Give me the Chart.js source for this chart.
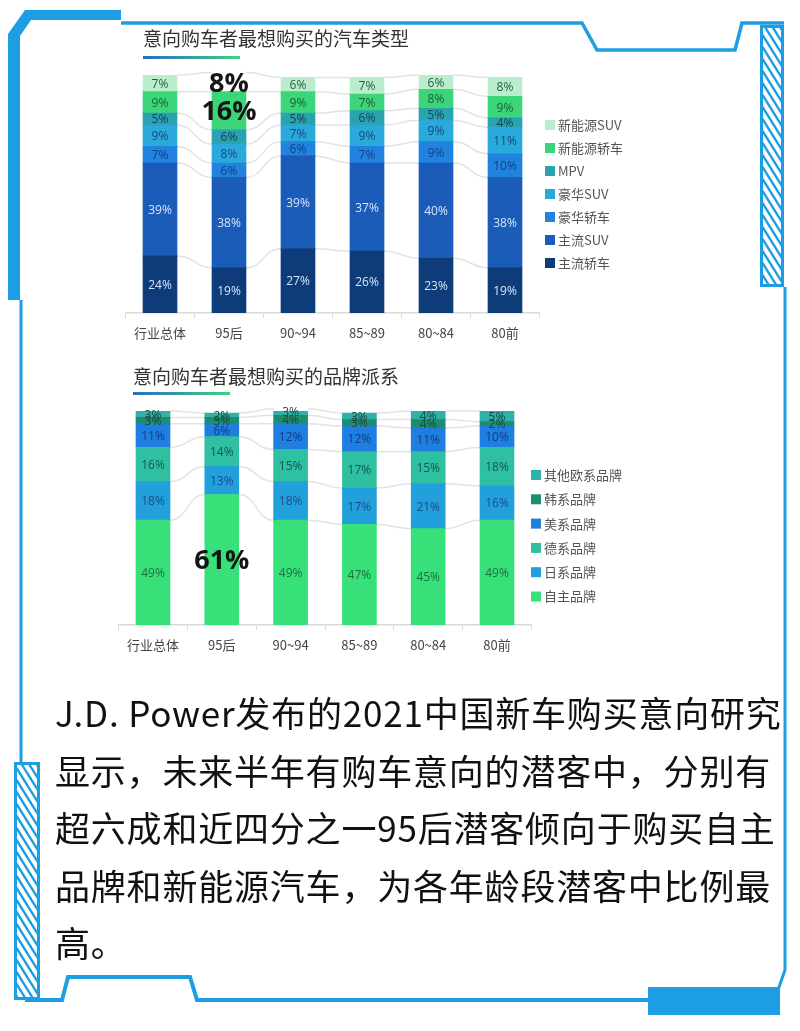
<!DOCTYPE html>
<html lang="zh-CN">
<head>
  <meta charset="UTF-8">
  <title>意向购车者最想购买的汽车类型 / 品牌派系</title>
  <script src="https://cdn.jsdelivr.net/npm/chart.js"></script>
  <style>
    body { margin: 0; background: #fff; font-family: "Noto Sans CJK SC", sans-serif; }
    .page { position: relative; width: 800px; height: 1031px; overflow: hidden; background: #fff; }
    #frame { position: absolute; left: 0; top: 0; }
    .title { position: absolute; font-size: 19px; line-height: 24px; color: #333; white-space: nowrap; }
    .underline { position: absolute; height: 3px; width: 97px; background: linear-gradient(90deg, #2a6cc6, #3fd27c); }
    canvas.chart { position: absolute; }
    .text { position: absolute; left: 55px; top: 683px; font-size: 35px; line-height: 57.5px; color: #111; letter-spacing: 0.8px; white-space: nowrap; }
  </style>
</head>
<body>
<div class="page">
  <canvas id="frame" width="800" height="1031"></canvas>

  <div class="title" style="left:143px; top:26px;">意向购车者最想购买的汽车类型</div>
  <div class="underline" style="left:143px; top:56px;"></div>
  <canvas class="chart" id="typeChart" width="540" height="293" style="left:110px; top:60px;"></canvas>

  <div class="title" style="left:133px; top:364px;">意向购车者最想购买的品牌派系</div>
  <div class="underline" style="left:133px; top:392px;"></div>
  <canvas class="chart" id="brandChart" width="560" height="269" style="left:100px; top:396px;"></canvas>

  <div class="text">
    J.D. Power发布的2021中国新车购买意向研究<br>
    显示，未来半年有购车意向的潜客中，分别有<br>
    超六成和近四分之一95后潜客倾向于购买自主<br>
    品牌和新能源汽车，为各年龄段潜客中比例最<br>
    高。
  </div>
</div>

<script>
  // categories
  const ageGroups = ['行业总体', '95后', '90~94', '85~89', '80~84', '80前'];

  // chart 1: car type (%), bottom to top
  const mainSedan   = [24, 19, 27, 26, 23, 19];
  const mainSuv     = [39, 38, 39, 37, 40, 38];
  const luxSedan    = [7, 6, 6, 7, 9, 10];
  const luxSuv      = [9, 8, 7, 9, 9, 11];
  const mpv         = [5, 6, 5, 6, 5, 4];
  const nevSedan    = [9, 16, 9, 7, 8, 9];
  const nevSuv      = [7, 8, 6, 7, 6, 8];

  // chart 2: brand origin (%), bottom to top
  const domestic    = [49, 61, 49, 47, 45, 49];
  const japanese    = [18, 13, 18, 17, 21, 16];
  const german      = [16, 14, 15, 17, 15, 18];
  const american    = [11, 6, 12, 12, 11, 10];
  const korean      = [3, 3, 4, 3, 4, 2];
  const otherEuro   = [3, 2, 3, 3, 4, 5];

  const BLUE = '#1d9ee2';

  // ---- decorative frame ----
  const f = document.getElementById('frame').getContext('2d');
  f.fillStyle = BLUE;
  f.strokeStyle = BLUE;
  // top-left block + left thick bar
  f.beginPath();
  f.moveTo(8, 34); f.lineTo(25, 10); f.lineTo(121, 10); f.lineTo(121, 20);
  f.lineTo(31, 20); f.lineTo(20, 36); f.lineTo(20, 300); f.lineTo(8, 300);
  f.closePath(); f.fill();
  // top line with dip
  f.lineWidth = 3.5;
  f.beginPath();
  f.moveTo(121, 23); f.lineTo(582, 23); f.lineTo(597, 50); f.lineTo(735, 50);
  f.lineTo(742, 23); f.lineTo(784, 23);
  f.stroke();
  // striped strips
  function stripes(x, y, w, h) {
    f.save();
    f.fillStyle = BLUE; f.fillRect(x, y, w, h);
    f.beginPath(); f.rect(x + 3, y + 3, w - 6, h - 6); f.clip();
    f.strokeStyle = '#fff'; f.lineWidth = 4;
    for (let k = -w * 2; k < h + w; k += 12) {
      f.beginPath(); f.moveTo(x, y + k); f.lineTo(x + w, y + k + w * 1.6); f.stroke();
    }
    f.restore();
  }
  stripes(760, 25, 24, 262);
  stripes(14, 762, 26, 238);
  // thin side lines
  f.lineWidth = 3;
  f.beginPath(); f.moveTo(21, 300); f.lineTo(21, 762); f.stroke();
  f.beginPath(); f.moveTo(785, 287); f.lineTo(785, 970); f.lineTo(778, 990); f.stroke();
  // bottom line with bump
  f.lineWidth = 4;
  f.beginPath();
  f.moveTo(25, 1000); f.lineTo(62, 1000); f.lineTo(68, 977); f.lineTo(190, 977);
  f.lineTo(197, 1000); f.lineTo(650, 1000);
  f.stroke();
  // bottom-right block
  f.fillRect(648, 987, 132, 28);

  // ---- plugins ----
  const seriesLines = {
    id: 'seriesLines',
    beforeDatasetsDraw(chart) {
      const ctx = chart.ctx;
      ctx.save();
      ctx.strokeStyle = '#e3e3e3';
      ctx.lineWidth = 1.5;
      chart.data.datasets.forEach((ds, di) => {
        const bars = chart.getDatasetMeta(di).data;
        for (let i = 0; i < bars.length - 1; i++) {
          const a = bars[i], b = bars[i + 1];
          const x0 = a.x + a.width / 2, x1 = b.x - b.width / 2, mx = (x0 + x1) / 2;
          ctx.beginPath();
          ctx.moveTo(x0, a.y);
          ctx.bezierCurveTo(mx, a.y, mx, b.y, x1, b.y);
          ctx.stroke();
        }
      });
      ctx.restore();
    }
  };

  const segLabels = {
    id: 'segLabels',
    afterDatasetsDraw(chart, args, opts) {
      const ctx = chart.ctx;
      const big = opts.big || [];
      const later = [];
      ctx.save();
      ctx.textAlign = 'center';
      ctx.textBaseline = 'middle';
      chart.data.datasets.forEach((ds, di) => {
        chart.getDatasetMeta(di).data.forEach((bar, i) => {
          const txt = ds.data[i] + '%';
          const y = (bar.y + bar.base) / 2;
          if (big.some(b => b[0] === di && b[1] === i)) { later.push([txt, bar.x, y]); return; }
          ctx.font = '12px "Open Sans", sans-serif';
          ctx.fillStyle = ds.labelColor;
          ctx.fillText(txt, bar.x, y + 1);
        });
      });
      ctx.font = 'bold 27px "Open Sans", sans-serif';
      ctx.fillStyle = '#151515';
      later.forEach(l => ctx.fillText(l[0], l[1], l[2] + 2));
      ctx.restore();
    }
  };

  const sideLegend = {
    id: 'sideLegend',
    afterDraw(chart, args, o) {
      const ctx = chart.ctx;
      const list = chart.data.datasets.slice().reverse();
      ctx.save();
      ctx.font = '13px "Noto Sans CJK SC", sans-serif';
      ctx.textBaseline = 'middle';
      list.forEach((ds, k) => {
        const y = o.y + k * o.gap;
        ctx.fillStyle = ds.swatch;
        ctx.fillRect(o.x, y - 5, 10, 10);
        ctx.fillStyle = '#555';
        ctx.fillText(ds.label, o.x + 13, y);
      });
      ctx.restore();
    }
  };

  function makeOptions(pad, legendPos, bigCells) {
    return {
      responsive: false,
      maintainAspectRatio: false,
      animation: false,
      layout: { padding: pad },
      plugins: {
        legend: { display: false },
        tooltip: { enabled: false },
        sideLegend: legendPos,
        segLabels: { big: bigCells }
      },
      scales: {
        x: {
          stacked: true,
          afterFit(s) { s.height = 40; },
          grid: { display: true, drawOnChartArea: false, drawTicks: true, tickLength: 5, color: '#d9d9d9', offset: true },
          border: { display: true, color: '#d9d9d9', width: 1.5 },
          ticks: { color: '#444', padding: 7, font: { family: '"Noto Sans CJK SC", sans-serif', size: 13 } }
        },
        y: { stacked: true, display: false, min: 0, max: 100 }
      }
    };
  }

  function ds(label, data, color, labelColor) {
    return { label, data, backgroundColor: color, swatch: Array.isArray(color) ? color[0] : color,
             labelColor, barThickness: 34, borderWidth: 0 };
  }

  const mint = '#b9edcc';
  new Chart(document.getElementById('typeChart'), {
    type: 'bar',
    data: {
      labels: ageGroups,
      datasets: [
        ds('主流轿车', mainSedan, '#0e3c78', '#d6e6fa'),
        ds('主流SUV', mainSuv, '#1a5cb8', '#d6e6fa'),
        ds('豪华轿车', luxSedan, '#2183e0', '#123f80'),
        ds('豪华SUV', luxSuv, '#29a9dc', '#1a4a75'),
        ds('MPV', mpv, '#2aa3b0', '#173f55'),
        ds('新能源轿车', nevSedan, '#3cd67a', '#1f5d36'),
        ds('新能源SUV', nevSuv, ageGroups.map((g, i) => i === 1 ? '#ffffff' : mint), '#2d5c3c')
      ]
    },
    options: makeOptions({ left: 15.5, right: 110.5, top: 15, bottom: 0 },
                         { x: 435, y: 65, gap: 23 }, [[5, 1], [6, 1]]),
    plugins: [seriesLines, segLabels, sideLegend]
  });

  new Chart(document.getElementById('brandChart'), {
    type: 'bar',
    data: {
      labels: ageGroups,
      datasets: [
        ds('自主品牌', domestic, '#38e07a', '#1d6e3e'),
        ds('日系品牌', japanese, '#22a0dc', '#1b4e86'),
        ds('德系品牌', german, '#2ec0a0', '#14594a'),
        ds('美系品牌', american, '#1f7fe0', '#123d84'),
        ds('韩系品牌', korean, '#1e8c6e', '#1c4a40'),
        ds('其他欧系品牌', otherEuro, '#2fb0a8', '#1c4a40')
      ]
    },
    options: makeOptions({ left: 18.6, right: 128.6, top: 15, bottom: 0 },
                         { x: 431, y: 79, gap: 24.3 }, [[0, 1]]),
    plugins: [seriesLines, segLabels, sideLegend]
  });
</script>
</body>
</html>
